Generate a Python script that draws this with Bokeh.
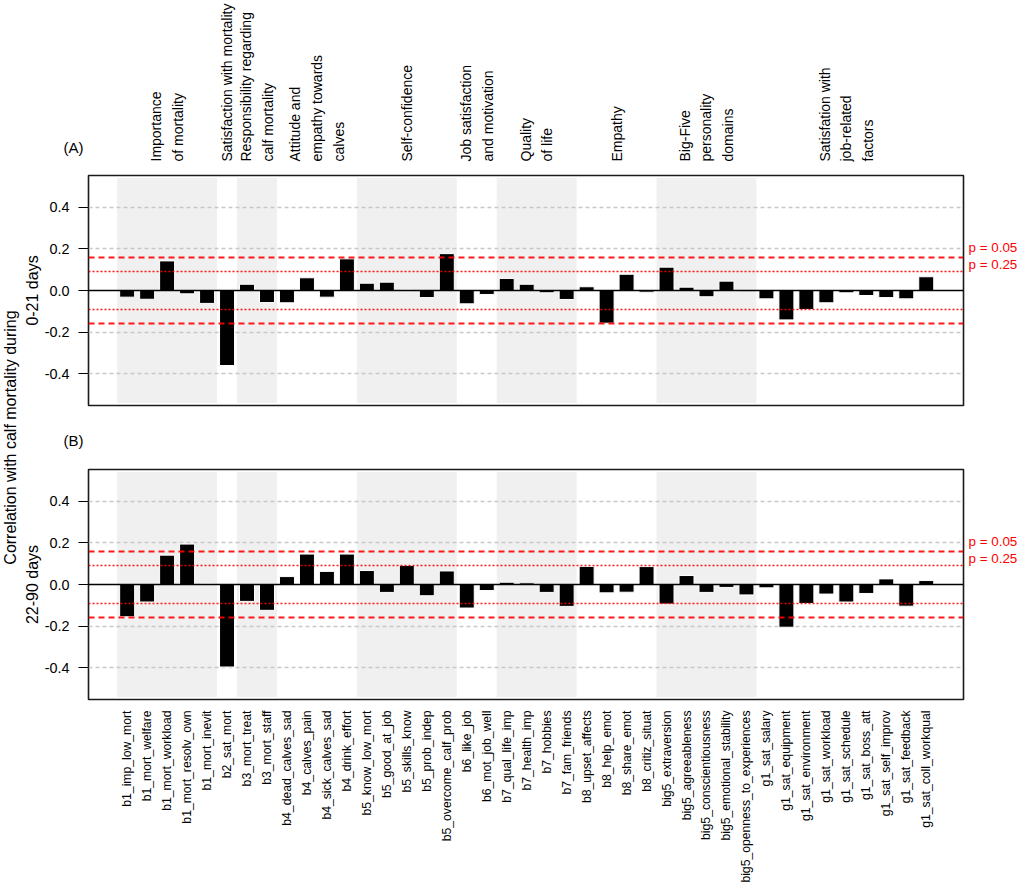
import math
from bokeh.plotting import figure
from bokeh.layouts import row, column
from bokeh.models import (ColumnDataSource, Range1d, FixedTicker, CustomJSTickFormatter,
                          LinearAxis)
from bokeh.core.properties import value
from bokeh.embed import file_html
from bokeh.resources import INLINE

# ---------------- data ----------------
items = [
    "b1_imp_low_mort", "b1_mort_welfare", "b1_mort_workload", "b1_mort_resolv_own", "b1_mort_inevit",
    "b2_sat_mort",
    "b3_mort_treat", "b3_mort_staff",
    "b4_dead_calves_sad", "b4_calves_pain", "b4_sick_calves_sad", "b4_drink_effort",
    "b5_know_low_mort", "b5_good_at_job", "b5_skills_know", "b5_prob_indep", "b5_overcome_calf_prob",
    "b6_like_job", "b6_mot_job_well",
    "b7_qual_life_imp", "b7_health_imp", "b7_hobbies", "b7_fam_friends",
    "b8_upset_affects", "b8_help_emot", "b8_share_emot", "b8_critiz_situat",
    "big5_extraversion", "big5_agreeableness", "big5_conscientiousness", "big5_emotional_stability",
    "big5_openness_to_experiences",
    "g1_sat_salary", "g1_sat_equipment", "g1_sat_environment", "g1_sat_workload", "g1_sat_schedule",
    "g1_sat_boss_att", "g1_sat_self_improv", "g1_sat_feedback", "g1_sat_coll_workqual",
]

group_titles = [
    "Importance\nof mortality",
    "Satisfaction with mortality",
    "Responsibility regarding\ncalf mortality",
    "Attitude and\nempathy towards\ncalves",
    "Self-confidence",
    "Job satisfaction\nand motivation",
    "Quality\nof life",
    "Empathy",
    "Big-Five\npersonality\ndomains",
    "Satisfation with\njob-related\nfactors",
]
group_sizes = [5, 1, 2, 4, 5, 2, 4, 4, 5, 9]

corr_0_21 = [
    -0.032, -0.042, 0.142, -0.016, -0.062,
    -0.360,
    0.030, -0.058,
    -0.059, 0.061, -0.032, 0.152,
    0.035, 0.040, 0.005, -0.034, 0.177,
    -0.064, -0.019,
    0.058, 0.030, -0.011, -0.043,
    0.018, -0.157, 0.078, -0.008,
    0.112, 0.016, -0.030, 0.045, -0.003,
    -0.040, -0.141, -0.091, -0.059, -0.011, -0.024, -0.034, -0.040, 0.066,
]

corr_22_90 = [
    -0.155, -0.084, 0.141, 0.194, 0.005,
    -0.396,
    -0.081, -0.124,
    0.038, 0.146, 0.063, 0.146,
    0.067, -0.038, 0.092, -0.054, 0.065,
    -0.113, -0.029,
    0.011, 0.008, -0.038, -0.105,
    0.087, -0.040, -0.037, 0.086,
    -0.094, 0.043, -0.038, -0.014, -0.050,
    -0.016, -0.205, -0.091, -0.046, -0.084, -0.043, 0.027, -0.104, 0.019,
]

panel_labels = ["(A)", "(B)"]
period_labels = ["0-21 days", "22-90 days"]
y_title = "Correlation with calf mortality during"
r_p05 = 0.158
r_p25 = 0.093
p_labels = ["p = 0.05", "p = 0.25"]
ytick_values = [-0.4, -0.2, 0.0, 0.2, 0.4]
grid_values = [-0.4, -0.2, 0.2, 0.4]

# ---------------- layout constants ----------------
FONT = "Liberation Sans"
HALF = 0.552                       # half height of a panel (data units)
X0, X1 = -1.935, 41.865            # x extent of the panel boxes
LEFT_W = 20                        # width of the common y-title strip
BL, BR = 68, 56                    # panel borders left / right
FRAME_W = 876
PLOT_W = BL + FRAME_W + BR
TOP_H, PAD, FRAME_H, MID_H, BOT_H = 173, 2, 230, 60, 186
TOTAL_H = TOP_H + (PAD + FRAME_H + PAD) + MID_H + (PAD + FRAME_H + BOT_H)

x_range = Range1d(X0, X1)
idx = list(range(len(items)))

starts = []
s = 0
for g in group_sizes:
    starts.append(s)
    s += g
mids = [st + (g - 1) / 2 for st, g in zip(starts, group_sizes)]


def style_hidden_axis_labels(ax, size, standoff):
    ax.axis_line_color = None
    ax.major_tick_line_color = None
    ax.major_tick_out = 0
    ax.major_tick_in = 0
    ax.minor_tick_line_color = None
    ax.major_label_standoff = standoff
    ax.major_label_text_font = FONT
    ax.major_label_text_font_size = size


def panel(vals, period, with_xaxis):
    h = PAD + FRAME_H + (BOT_H if with_xaxis else PAD)
    p = figure(width=PLOT_W, height=h, x_range=x_range, y_range=Range1d(-HALF, HALF),
               output_backend="svg", toolbar_location=None, tools="",
               x_axis_location="below" if with_xaxis else None,
               min_border_left=BL, min_border_right=BR, min_border_top=PAD,
               min_border_bottom=BOT_H if with_xaxis else PAD)
    p.outline_line_color = "#1a1a1a"
    p.outline_line_width = 1.6
    p.grid.visible = False

    # y axis
    p.yaxis.ticker = FixedTicker(ticks=ytick_values)
    p.yaxis.formatter = CustomJSTickFormatter(
        code="var v = Math.round(tick*10)/10; return v.toFixed(1);")
    p.yaxis.axis_line_color = None
    p.yaxis.major_tick_out = 10
    p.yaxis.major_tick_in = 0
    p.yaxis.major_tick_line_color = "black"
    p.yaxis.major_tick_line_width = 1.2
    p.yaxis.minor_tick_line_color = None
    p.yaxis.major_label_standoff = 9
    p.yaxis.major_label_text_font = FONT
    p.yaxis.major_label_text_font_size = "14.4px"
    p.yaxis.major_label_text_color = "black"
    p.yaxis.axis_label = period
    p.yaxis.axis_label_standoff = 1
    p.yaxis.axis_label_text_font = FONT
    p.yaxis.axis_label_text_font_size = "16px"
    p.yaxis.axis_label_text_font_style = "normal"
    p.yaxis.axis_label_text_color = "black"

    # p-value labels as a right axis
    ptick = [r_p05 + 0.048, r_p25 + 0.032]
    ra = LinearAxis(ticker=FixedTicker(ticks=ptick),
                    formatter=CustomJSTickFormatter(
                        args=dict(labs=p_labels, split=(ptick[0] + ptick[1]) / 2),
                        code="return tick > split ? labs[0] : labs[1];"))
    style_hidden_axis_labels(ra, "13.4px", 5)
    ra.major_label_text_color = "#ff0000"
    p.add_layout(ra, "right")

    if with_xaxis:
        p.xaxis.ticker = FixedTicker(ticks=idx)
        p.xaxis.major_label_overrides = {i: name for i, name in enumerate(items)}
        p.xaxis.major_label_orientation = math.pi / 2
        style_hidden_axis_labels(p.xaxis[0], "12.2px", 11)
        p.xaxis.major_label_text_color = "black"

    # shading of alternate groups
    ql, qr = [], []
    for k, (st, g) in enumerate(zip(starts, group_sizes)):
        if k % 2 == 0:
            ql.append(st - 0.5)
            qr.append(st + g - 0.5)
    p.quad(left=ql, right=qr, bottom=-HALF + 0.012, top=HALF - 0.012,
           fill_color="#f0f0f0", line_color=None)

    # gray dashed grid
    p.hspan(y=grid_values, line_color="#c8c8c8", line_dash="4 3", line_width=1.3)

    # bars
    src = ColumnDataSource(dict(x=idx, top=vals))
    p.vbar(x="x", top="top", bottom=0, width=0.75, source=src,
           fill_color="black", line_color="white", line_width=1)

    # zero line
    p.hspan(y=[0], line_color="black", line_width=1.5)

    # significance lines
    p.hspan(y=[r_p05, -r_p05], line_color="#ff0000", line_alpha=0.9,
            line_dash="6 4", line_width=2)
    p.hspan(y=[r_p25, -r_p25], line_color="#ff0000", line_alpha=0.9,
            line_dash="2 2", line_width=1.6)
    return p


def strip(width, height, xr, bl, br):
    f = figure(width=width, height=height, x_range=xr, y_range=Range1d(0, height),
               output_backend="svg", toolbar_location=None, tools="",
               x_axis_location=None, y_axis_location=None,
               min_border_left=bl, min_border_right=br,
               min_border_top=0, min_border_bottom=0)
    f.outline_line_color = None
    f.grid.visible = False
    return f


def panel_tag(f, ypos, text):
    ax = LinearAxis(ticker=FixedTicker(ticks=[ypos]),
                    formatter=CustomJSTickFormatter(args=dict(t=text), code="return t;"))
    style_hidden_axis_labels(ax, "15px", 5)
    ax.major_label_text_color = "black"
    f.add_layout(ax, "left")


# top strip: group titles and (A)
top = strip(PLOT_W, TOP_H, x_range, BL, BR)
top.text(x=mids, y=[12] * len(mids), text=group_titles, angle=math.pi / 2,
         text_align="left", text_baseline="middle",
         text_font=value(FONT), text_font_size=value("14px"), text_color="black",
         text_line_height=1.35)
panel_tag(top, TOP_H - 147, panel_labels[0])

# middle strip: (B)
mid = strip(PLOT_W, MID_H, x_range, BL, BR)
panel_tag(mid, MID_H - 33, panel_labels[1])

pa = panel(corr_0_21, period_labels[0], False)
pb = panel(corr_22_90, period_labels[1], True)

# left strip: common y title
left = strip(LEFT_W, TOTAL_H, Range1d(0, LEFT_W), 0, 0)
frameA_top = TOP_H + PAD
frameB_bot = TOP_H + PAD + FRAME_H + PAD + MID_H + PAD + FRAME_H
left.text(x=[9.5], y=[TOTAL_H - (frameA_top + frameB_bot) / 2], text=[y_title],
          angle=math.pi / 2, text_align="center", text_baseline="middle",
          text_font=value(FONT), text_font_size=value("16px"), text_color="black")

layout = row(left, column(top, pa, mid, pb))

open("out.html", "w").write(file_html(layout, INLINE))
